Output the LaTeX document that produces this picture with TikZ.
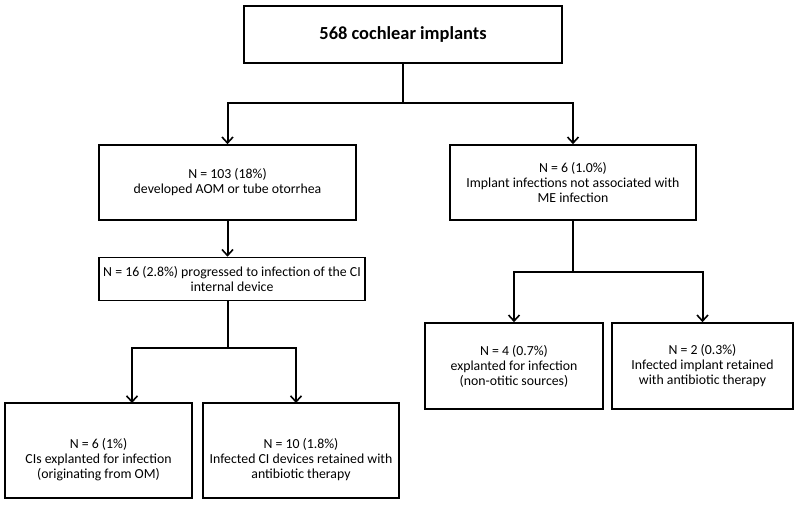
\documentclass[tikz,border=0pt]{standalone}
\usepackage{fontspec}
\setmainfont{Carlito}
\usetikzlibrary{arrows.meta}
\begin{document}
\begin{tikzpicture}[x=1pt,y=-1pt,
  box/.style={draw=black,line width=1.6pt,rectangle,inner sep=0pt,align=center,font=\fontsize{13.8}{15}\selectfont},
  conn/.style={line width=2pt},
  arr/.style={line width=2pt,-{Straight Barb[length=6pt,width=11pt,line width=1.6pt]}}]
\useasboundingbox (0,0) rectangle (800,505);
\node[box,minimum width=318pt,minimum height=57pt,font=\fontsize{18.4}{20}\selectfont\bfseries] (top) at (403,34.5) {568 cochlear implants};
\node[box,minimum width=257pt,minimum height=75pt] (a) at (227.5,182.5) {N = 103 (18\%)\\developed AOM or tube otorrhea};
\node[box,minimum width=266pt,minimum height=43pt] (b) at (232,279) {N = 16 (2.8\%) progressed to infection of the CI\\internal device};
\node[box,minimum width=187pt,minimum height=95pt,label={[align=center,font=\fontsize{13.8}{15}\selectfont,yshift=-9pt]center:N = 6 (1\%)\\CIs explanted for infection\\(originating from OM)}] (c) at (98.5,450.5) {};
\node[box,minimum width=196pt,minimum height=95pt,label={[align=center,font=\fontsize{13.8}{15}\selectfont,yshift=-9pt]center:N = 10 (1.8\%)\\Infected CI devices retained with\\antibiotic therapy}] (d) at (301,450.5) {};
\node[box,minimum width=246pt,minimum height=75pt] (e) at (573,182.5) {N = 6 (1.0\%)\\Implant infections not associated with\\ME infection};
\node[box,minimum width=178pt,minimum height=86pt] (f) at (514,366) {N = 4 (0.7\%)\\explanted for infection\\(non-otitic sources)};
\node[box,minimum width=181pt,minimum height=86pt] (g) at (702.5,366) {N = 2 (0.3\%)\\Infected implant retained\\with antibiotic therapy};
\coordinate (j1) at (403,103);
\coordinate (j2) at (227.5,348);
\coordinate (j3) at (573,272);
\coordinate (cin) at (132,403);
\coordinate (din) at (296,403);
\draw[conn] (top.south) -- (j1);
\draw[arr] (j1) -| (a.north);
\draw[arr] (j1) -| (e.north);
\draw[arr] (a.south) -- (a.south |- b.north);
\draw[conn] (a.south |- b.south) -- (j2);
\draw[arr] (j2) -| (cin);
\draw[arr] (j2) -| (din);
\draw[conn] (e.south) -- (j3);
\draw[arr] (j3) -| (f.north);
\draw[arr] (j3) -| (g.north);
\end{tikzpicture}
\end{document}
